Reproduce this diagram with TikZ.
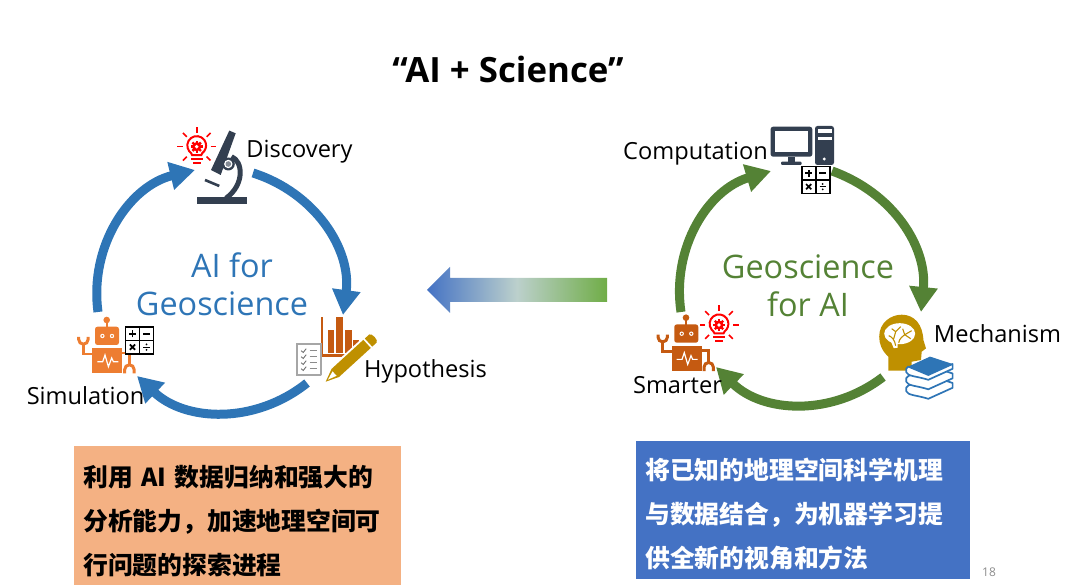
\documentclass[tikz,border=0pt]{standalone}
\usepackage{fontspec}
\setmainfont{Open Sans}
\newfontfamily\cjk{Noto Sans CJK SC}
\usepackage{xcolor}
\definecolor{ringblue}{HTML}{2E75B6}
\definecolor{ringgreen}{HTML}{548235}
\definecolor{botorange}{HTML}{ED7D31}
\definecolor{botrust}{HTML}{C55A11}
\definecolor{gold}{HTML}{BF9000}
\definecolor{navy}{HTML}{333F50}
\definecolor{lampred}{HTML}{FF0000}
\definecolor{boxorange}{HTML}{F4B183}
\definecolor{boxblue}{HTML}{4472C4}
\definecolor{fadegreen}{HTML}{70AD47}
\definecolor{fademid}{HTML}{BCD0CC}
\usetikzlibrary{arrows.meta}
\tikzset{
    pics/robot/.style={code={
        \fill[#1] (0,25) circle (3.3);
        \fill[#1] (-1,25) rectangle (1,18);
        \fill[#1, rounded corners=2.5pt] (-11.7,18.3) rectangle (12.3,0);
        \fill[white] (-4.3,9) circle (2.2) (5.3,9) circle (2.2);
        \fill[#1] (-4.3,9) circle (1.1) (5.3,9) circle (1.1);
        \fill[#1] (-14.3,-3.3) rectangle (15.7,-28.3);
        \draw[white, line width=1.2pt] (-9.3,-16.7) -- (-4,-16.7) -- (-1.7,-10) -- (1.7,-21.7) -- (5,-13) -- (6.7,-16.7) -- (11.7,-16.7);
        \draw[#1, line width=2.6pt] (-14.3,-9) -- (-23.3,-9) -- (-23.3,1);
        \draw[#1, line width=3pt] (-28,8) -- (-28,5.5) arc[start angle=180, end angle=360, radius=4.7] -- (-18.6,8);
        \draw[#1, line width=2.6pt] (15.7,-8) -- (22.7,-8) -- (22.7,-19);
        \draw[#1, line width=3pt] (18,-28.5) -- (18,-24.5) arc[start angle=180, end angle=0, radius=4.7] -- (27.4,-28.5);
    }},
    pics/keypad/.style={code={
        \draw[black, line width=1.9pt, fill=white] (-14,-13.5) rectangle (14,13.5);
        \draw[black, line width=1.7pt] (-14,0) -- (14,0) (0,-13.5) -- (0,13.5);
        \draw[black, line width=1.7pt] (-10.5,6.7) -- (-3.5,6.7) (-7,3.2) -- (-7,10.2);
        \draw[black, line width=1.7pt] (3.5,6.7) -- (10.5,6.7);
        \draw[black, line width=1.7pt] (-9.6,-9.3) -- (-4.4,-4.1) (-9.6,-4.1) -- (-4.4,-9.3);
        \draw[black, line width=1.1pt] (3.8,-6.7) -- (10.2,-6.7);
        \fill[black] (7,-4) circle (1) (7,-9.4) circle (1);
    }},
    pics/lamp/.style={code={
        \draw[lampred, line width=2pt] (-4.5,-8.5) .. controls (-5,-6.5) and (-6,-6) .. (-7.5,-4.5) arc[start angle=217, end angle=-37, radius=9.4] .. controls (6,-6) and (5,-6.5) .. (4.5,-8.5) -- cycle;
        \fill[lampred] (0,0) circle (4.6);
        \foreach \a in {0,45,...,315} {\fill[lampred, rotate=\a] (-1.2,3.8) rectangle (1.2,6);}
        \fill[white] (0,0) circle (1.9);
        \fill[lampred] (-6,-11) rectangle (6,-13.5);
        \fill[lampred] (-4,-15.5) rectangle (4,-17.5);
        \foreach \a in {0,45,90,135,180,225,315} {\draw[lampred, line width=1.6pt, rotate=\a] (14,0) -- (19.5,0);}
    }},
    pics/microscope/.style={code={
        \fill[navy] (-24.7,-30) rectangle (24.7,-37);
        \draw[navy, line width=5pt] (9.5,10.7) .. controls (21,6) and (23,-17) .. (4,-31);
        \fill[navy] (7.3,36.7) -- (13.7,34) -- (-1.3,-7.7) -- (-11,-2.7) -- cycle;
        \fill[navy] (6.3,3.3) circle (6.5);
        \fill[white] (6.3,3.3) circle (4.2);
        \fill[navy!60] (6.3,3.3) circle (2.8);
        \draw[navy, line width=2.6pt] (-17,-12.7) -- (-2.7,-18.7);
    }},
    pics/barchart/.style={code={
        \fill[botrust] (-19.3,19.3) rectangle (-16.7,-20);
        \fill[botrust] (-19.3,-17.3) rectangle (20,-20);
        \fill[botrust] (-12.3,-16.7) rectangle (-6,6.7);
        \fill[botrust] (-4,-16.7) rectangle (3.3,19.3);
        \fill[botrust] (5,-16.7) rectangle (11.7,6.7);
        \fill[botrust] (13.3,-16.7) rectangle (19.3,-3.3);
    }},
    pics/checklist/.style={code={
        \draw[black!35, line width=1.8pt, fill=white] (-12,-15.3) rectangle (12,15.3);
        \foreach \y in {9,3,-3,-9} {
            \draw[black!55, line width=0.9pt] (-7.5,\y) -- (-5.5,\y-1.8) -- (-2.5,\y+2);
            \draw[black!45, line width=1pt] (1,\y) -- (8,\y);
        }
    }},
    pics/pencil/.style={code={
        \begin{scope}[rotate=42.4]
            \fill[white] (-2,-7.5) rectangle (60,7.5);
            \fill[gold] (0,0) -- (13,5.5) -- (56,5.5) -- (56,-5.5) -- (13,-5.5) -- cycle;
            \fill[white] (3,0) -- (12,3) -- (12,-3) -- cycle;
            \fill[gold] (58,5.5) -- (64,5.5) .. controls (67,5.5) and (67,-5.5) .. (64,-5.5) -- (58,-5.5) -- cycle;
        \end{scope}
    }},
    pics/desktop/.style={code={
        \fill[navy, rounded corners=2.5pt] (-31.7,19) rectangle (10,-11);
        \fill[white] (-27.3,15) rectangle (6,-6.7);
        \fill[navy] (-14,-11) rectangle (-7.3,-16);
        \fill[navy, rounded corners=1pt] (-21.3,-16) rectangle (-0.7,-19.3);
        \fill[navy, rounded corners=2.5pt] (12.7,19.7) rectangle (31.7,-19.3);
        \fill[white] (16,16.3) rectangle (29.3,12.3);
        \fill[white] (16,9) rectangle (29.3,5.7);
        \fill[white] (22,-13.3) circle (1.6);
    }},
    pics/brainhead/.style={code={
        \fill[gold] (-13.3,-34) -- (-13.3,-20) .. controls (-20,-14) and (-22.5,-7) .. (-22.5,0) .. controls (-22.5,14) and (-11,22) .. (0,22) .. controls (13,22) and (21,12) .. (21.7,-3.3) -- (24.3,-11.7) -- (20,-15) -- (19.3,-23.3) -- (10,-25) -- (10,-34) -- cycle;
        \fill[white] (-2,3) ellipse (15.5 and 10.5);
        \fill[white] (-11,-4) -- (-4,-4) -- (-4,-11) -- (-8,-11.5) -- cycle;
        \draw[gold, line width=1.1pt] (-6,-9) .. controls (-7,-3) and (-10,0) .. (-13,1) (-8,-2) -- (-6,5) -- (-10,8) (-6,5) -- (-1,10) (-3,-6) .. controls (-2,-1) and (1,0) .. (3,2) -- (1,8) (3,2) -- (10,6) (3,2) -- (9,-2);
    }},
    pics/books/.style={code={
        \foreach \y in {-19,-9.5} {
            \draw[ringblue, line width=1.7pt, fill=white, line join=round] (-21,\y+11.7) -- (0.7,\y+21.7) -- (23.3,\y+14.3) -- (23.3,\y+9.5) -- (-1,\y-1.5) .. controls (-12,\y+2) and (-22,\y+2) .. (-23,\y+6) .. controls (-24,\y+9) and (-23,\y+10.5) .. (-21,\y+11.7) -- cycle;
        }
        \fill[ringblue] (-21,11.7) -- (0.7,21.7) -- (23.3,14.3) -- (-1,3.3) -- cycle;
        \draw[ringblue, line width=1.7pt, fill=white, line join=round] (23.3,14.3) -- (23.3,9.5) -- (-1,-1.5) .. controls (-12,2) and (-22,2) .. (-23,6) .. controls (-24,9) and (-23,10.5) .. (-21,11.7) -- (-1,3.3) -- cycle;
    }}
}

\begin{document}
\begin{tikzpicture}[
        x=1pt, y=1pt,
        ringblueline/.style={line width=9pt, color=ringblue, -{Triangle[length=25pt, width=27pt]}},
        ringgreenline/.style={line width=9pt, color=ringgreen, -{Triangle[length=25pt, width=27pt]}},
        tag/.style={inner sep=0pt, font=\fontsize{23.6}{28}\selectfont, color=black},
        ringname/.style={inner sep=0pt, align=center, font=\fontsize{32.4}{38}\selectfont, color=#1},
        infotext/.style={inner sep=0pt, anchor=west, align=left, color=#1, font=\cjk\bfseries\fontsize{24.8}{44}\selectfont},
        infobox/.style={inner sep=0pt, fill=#1, anchor=south west}
    ]
        \useasboundingbox (0,0) rectangle (1080,586);

        \node[inner sep=0pt, font=\bfseries\fontsize{34.8}{42}\selectfont] (title) at (508,517) {“AI + Science”};

        \coordinate (discoveryout) at (253,413);
        \coordinate (hypothesisin) at (343,271);
        \coordinate (hypothesisout) at (307,203);
        \coordinate (simulationin) at (137,210);
        \coordinate (simulationout) at (98,274);
        \coordinate (discoveryin) at (195,416);
        \draw[ringblueline] (discoveryout) to[bend left=40] (hypothesisin);
        \draw[ringblueline] (hypothesisout) to[bend left=41] (simulationin);
        \draw[ringblueline] (simulationout) to[bend left=42] (discoveryin);

        \coordinate (computationout) at (832,415);
        \coordinate (mechanismin) at (921,274);
        \coordinate (mechanismout) at (883,209);
        \coordinate (smarterin) at (716,219);
        \coordinate (smarterout) at (681,274);
        \coordinate (computationin) at (771,415);
        \draw[ringgreenline] (computationout) to[bend left=38] (mechanismin);
        \draw[ringgreenline] (mechanismout) to[bend left=41] (smarterin);
        \draw[ringgreenline] (smarterout) to[bend left=41] (computationin);

        \pic at (106.7,241) {robot=botorange};
        \pic at (139.5,245.5) {keypad};
        \pic at (196.7,439.3) {lamp};
        \pic at (222,418.7) {microscope};
        \pic at (340,249.3) {barchart};
        \pic at (308.7,226.3) {checklist};
        \pic at (325.7,204.3) {pencil};

        \pic at (686,243.3) {robot=botrust};
        \pic at (815.7,406) {keypad};
        \pic at (719,261) {lamp};
        \pic at (802.3,440.3) {desktop};
        \pic at (901.7,249.3) {brainhead};
        \pic at (929.3,207.7) {books};

        \node[tag] (discovery) at (299.5,434) {Discovery};
        \node[tag] (hypothesis) at (425.5,215) {Hypothesis};
        \node[tag] (simulation) at (85.5,190) {Simulation};
        \node[tag] (computation) at (695.5,432) {Computation};
        \node[tag] (mechanism) at (997.5,252) {Mechanism};
        \node[tag] (smarter) at (677.5,201) {Smarter};

        \node[ringname=ringblue] (aifor) at (222,302) {\hspace{20pt}AI for\\Geoscience};
        \node[ringname=ringgreen] (geofor) at (808,300) {Geoscience\\for AI};

        \shade[left color=boxblue, right color=fadegreen, middle color=fademid] (427,296) -- (450,319) -- (450,308) -- (607,308) -- (607,284) -- (450,284) -- (450,273) -- cycle;

        \node[infobox=boxorange, minimum width=327pt, minimum height=139pt] (leftbox) at (74,1) {};
        \node[infobox=boxblue, minimum width=334pt, minimum height=138pt] (rightbox) at (636,7) {};
        \node[infotext=black] (lefttext) at (83,65) {利用\hspace{8.5pt}AI\hspace{8.5pt}数据归纳和强大的\\分析能力，加速地理空间可\\行问题的探索进程};
        \node[infotext=white] (righttext) at (645,72) {将已知的地理空间科学机理\\与数据结合，为机器学习提\\供全新的视角和方法};

        \node[inner sep=0pt, color=black!45, font=\fontsize{12}{14}\selectfont] (pagenum) at (989,14) {18};
    \end{tikzpicture}
\end{document}
